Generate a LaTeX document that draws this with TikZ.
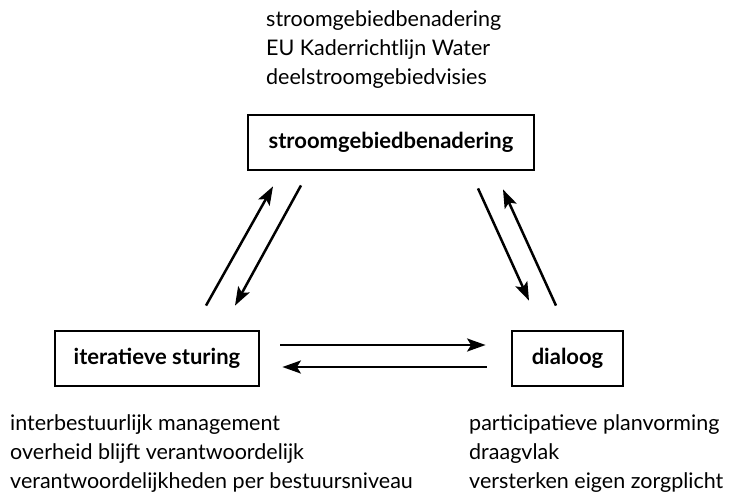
\documentclass[tikz,border=0pt]{standalone}
\usepackage{fontspec}
\setmainfont{Lato}
\usetikzlibrary{arrows.meta,calc}
\tikzset{
  boxnode/.style={draw, line width=2.8pt, inner sep=0pt, font=\bfseries\fontsize{22}{26}\selectfont},
  conn/.style={line width=2.5pt, -{Stealth[length=18.5pt,width=13pt,inset=4pt]}},
  txt/.style={anchor=base west, inner sep=0pt, font=\fontsize{21.5}{26}\selectfont}
}
\begin{document}
\begin{tikzpicture}[x=1pt,y=-1pt]
\useasboundingbox (0,0) rectangle (734,496);
% boxes
\node[boxnode, minimum width=286pt, minimum height=55pt] (top) at (391,142.5) {stroomgebiedbenadering};
\node[boxnode, minimum width=204pt, minimum height=55pt] (left) at (157,358.5) {iteratieve sturing};
\node[boxnode, minimum width=111pt, minimum height=55pt] (right) at (567.5,358.5) {dialoog};
% texts
\node[txt] (t1) at (266,26.5) {stroomgebiedbenadering};
\node[txt] (t2) at (266,55.5) {EU Kaderrichtlijn Water};
\node[txt] (t3) at (266,84.5) {deelstroomgebiedvisies};
\node[txt] (l1) at (10,430.5) {interbestuurlijk management};
\node[txt] (l2) at (10,459.5) {overheid blijft verantwoordelijk};
\node[txt] (l3) at (10,488.5) {verantwoordelijkheden per bestuursniveau};
\node[txt] (r1) at (469,430.5) {participatieve planvorming};
\node[txt] (r2) at (469,459.5) {draagvlak};
\node[txt] (r3) at (469,488.5) {versterken eigen zorgplicht};
% connectors
\draw[conn] ([xshift=49pt,yshift=24pt]left.north) -- ([xshift=-118pt,yshift=-15pt]top.south);
\draw[conn] ([xshift=-90pt,yshift=-14pt]top.south) -- ([xshift=78pt,yshift=24pt]left.north);
\draw[conn] ([xshift=87pt,yshift=-17pt]top.south) -- ([xshift=-38.5pt,yshift=29pt]right.north);
\draw[conn] ([xshift=-11.5pt,yshift=24pt]right.north) -- ([xshift=112pt,yshift=-18pt]top.south);
\draw[conn] ([xshift=20pt,yshift=13.5pt]left.east) -- ([xshift=-25pt,yshift=13.5pt]right.west);
\draw[conn] ([xshift=-24pt,yshift=-8.5pt]right.west) -- ([xshift=22pt,yshift=-8.5pt]left.east);
\end{tikzpicture}
\end{document}
